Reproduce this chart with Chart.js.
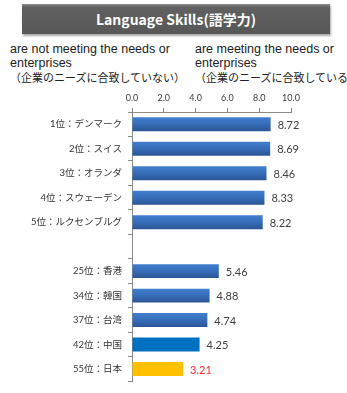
<!DOCTYPE html>
<html>
<head>
<meta charset="utf-8">
<script src="https://cdn.jsdelivr.net/npm/chart.js@4"></script>
<style>
  html, body { margin: 0; padding: 0; background: #fff; }
  body { width: 347px; height: 393px; position: relative; overflow: hidden; }
  #title {
    position: absolute; left: 22px; top: 4px; width: 308px; height: 30px;
    background: linear-gradient(#8c8c8c 0px, #616161 3px, #575757 100%);
    box-shadow: 1px 2px 2px rgba(0,0,0,0.35);
    color: #fff; font: bold 14px "Noto Sans CJK JP", sans-serif;
    text-align: center; line-height: 30px;
  }
  .note {
    position: absolute; top: 43px; white-space: nowrap;
    color: #222; font: 12.5px "Liberation Sans", Arial, sans-serif; line-height: 13.5px;
  }
  .note .jp { font: 11px "Noto Sans CJK JP", sans-serif; line-height: 14px; }
  #left { left: 10px; }
  #right { left: 195px; }
  #chart { position: absolute; left: 0; top: 0; }
</style>
</head>
<body>
<div id="title">Language Skills(語学力)</div>
<div class="note" id="left">are not meeting the needs or<br>enterprises<br><span class="jp">（企業のニーズに合致していない）</span></div>
<div class="note" id="right">are meeting the needs or<br>enterprises<br><span class="jp">（企業のニーズに合致している）</span></div>
<canvas id="chart" width="347" height="393"></canvas>
<script>
// ranking labels, blank slot separates top five from the Asian group
var countries = ['1位：デンマーク', '2位：スイス', '3位：オランダ', '4位：スウェーデン', '5位：ルクセンブルグ', '',
                 '25位：香港', '34位：韓国', '37位：台湾', '42位：中国', '55位：日本'];
var scores = [8.72, 8.69, 8.46, 8.33, 8.22, null, 5.46, 4.88, 4.74, 4.25, 3.21];
var xTicks = [0, 2, 4, 6, 8, 10];

var BAR_PCT = 0.57;
var solidFill = { 9: '#0070c0', 10: '#ffc000' };

function barFill(ctx) {
  var i = ctx.dataIndex;
  if (solidFill[i]) return solidFill[i];
  var chart = ctx.chart;
  var y = chart.scales.y;
  if (!chart.chartArea || !y) return '#3468ad';
  var cy = y.getPixelForValue(i);
  var h = (chart.chartArea.bottom - chart.chartArea.top) / countries.length * BAR_PCT;
  var g = chart.ctx.createLinearGradient(0, cy - h / 2, 0, cy + h / 2);
  g.addColorStop(0, '#427fce');
  g.addColorStop(0.5, '#366db8');
  g.addColorStop(1, '#2a5594');
  return g;
}

// value text to the right of each bar
var valueLabels = {
  id: 'valueLabels',
  afterDatasetsDraw: function(chart) {
    var c = chart.ctx;
    var meta = chart.getDatasetMeta(0);
    c.save();
    c.font = '11px Lato, sans-serif';
    c.textBaseline = 'middle';
    meta.data.forEach(function(bar, i) {
      if (scores[i] == null) return;
      c.fillStyle = i === 10 ? '#ff2a2a' : '#404040';
      c.fillText(scores[i].toFixed(2), bar.x + 7, bar.y + 1);
    });
    c.restore();
  }
};

new Chart(document.getElementById('chart'), {
  type: 'bar',
  data: {
    labels: countries,
    datasets: [{
      data: scores,
      backgroundColor: barFill,
      barPercentage: BAR_PCT,
      categoryPercentage: 1,
      borderWidth: 0
    }]
  },
  options: {
    indexAxis: 'y',
    responsive: false,
    animation: false,
    layout: { padding: { top: 86, left: 0, right: 56, bottom: 1 } },
    plugins: { legend: { display: false }, tooltip: { enabled: false } },
    scales: {
      x: {
        position: 'top',
        min: 0, max: 10,
        afterFit: function(s) { s.height = 26; },
        afterBuildTicks: function(s) { s.ticks = xTicks.map(function(v) { return { value: v }; }); },
        ticks: {
          callback: function(v) { return Number(v).toFixed(1); },
          color: '#404040', font: { size: 9, family: 'Lato, sans-serif' }, padding: 5, maxRotation: 0
        },
        grid: { drawOnChartArea: false, tickLength: 4, color: '#8c8c8c' },
        border: { color: '#8c8c8c' }
      },
      y: {
        afterFit: function(s) { s.width = 132; },
        ticks: {
          color: '#333', font: { size: 9.5, family: 'Lato, "Noto Sans CJK JP", sans-serif' }, padding: 6
        },
        grid: { drawOnChartArea: false, tickLength: 4, color: '#8c8c8c' },
        border: { color: '#8c8c8c' }
      }
    }
  },
  plugins: [valueLabels]
});
</script>
</body>
</html>
